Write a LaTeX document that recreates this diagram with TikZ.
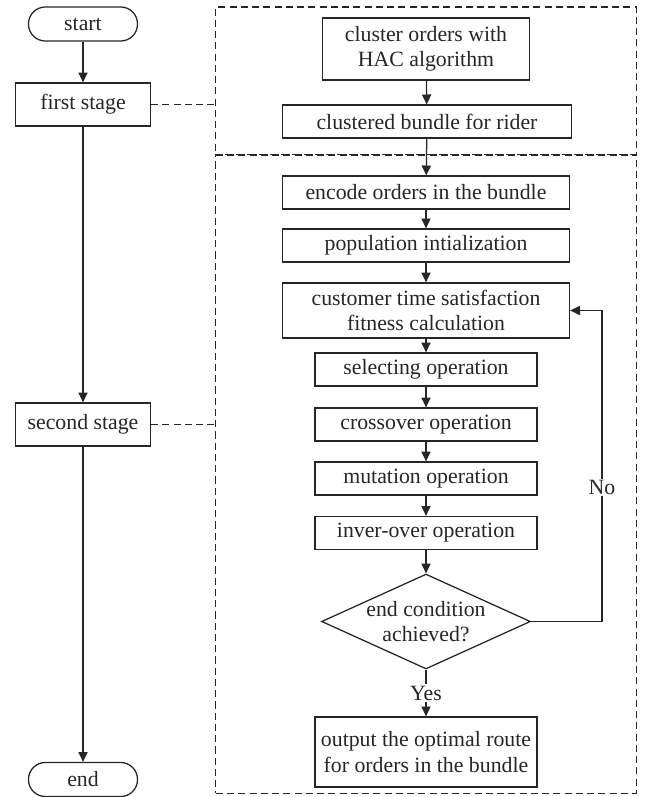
\documentclass[tikz,border=0pt]{standalone}
\usepackage{fontspec}
\setmainfont{Liberation Serif}
\usetikzlibrary{arrows.meta,shapes.geometric}
\tikzset{
  every node/.style={font=\fontsize{15.5}{18}\selectfont, text=black!85},
  termbox/.style={draw=black!85, line width=0.9pt, rounded corners=0.42cm,
    minimum width=2.725cm, minimum height=0.85cm, inner sep=0pt},
  stagebox/.style={draw=black!85, line width=0.9pt,
    minimum width=3.375cm, minimum height=1.075cm, inner sep=0pt},
  opbox/.style={draw=black!85, line width=0.9pt, align=center,
    minimum height=0.825cm, inner sep=0pt},
  dashbox/.style={draw=black!85, line width=0.75pt, dash pattern=on 5pt off 3pt, inner sep=0pt},
  condbox/.style={draw=black!85, line width=0.9pt, diamond, aspect=2.2, align=center,
    minimum width=5.15cm, minimum height=2.325cm, inner sep=0pt},
  arr/.style={draw=black!85, line width=0.9pt, -{Triangle[length=7pt,width=6.5pt]}},
  link/.style={draw=black!85, line width=0.75pt, dash pattern=on 5pt off 3pt}
}
\begin{document}
\begin{tikzpicture}[x=0.025cm, y=-0.025cm]
		%%%%% FRAME %%%%%
		\useasboundingbox (0, 0) rectangle (647, 797);
		
		%%%%% LEFT COLUMN %%%%%
		\node[termbox] (start) at (83, 24) {start};
		\node[stagebox] (first) at (83, 104.5) {first stage};
		\node[stagebox] (second) at (83, 424.5) {second stage};
		\node[termbox] (end) at (83, 779.5) {end};
		
		\draw[arr] (start) -- (first);
		\draw[arr] (first) -- (second);
		\draw[arr] (second) -- (end);
		
		%%%%% DASHED STAGES %%%%%
		\node[dashbox, minimum width=10.5cm, minimum height=3.7cm] (upper) at (426, 81) {};
		\node[dashbox, minimum width=10.5cm, minimum height=15.95cm] (lower) at (426, 474) {};
		
		\draw[link] (first.east) -- (first.east -| upper.west);
		\draw[link] (second.east) -- (second.east -| lower.west);
		
		%%%%% FIRST STAGE %%%%%
		\node[opbox, minimum width=5.175cm, minimum height=1.55cm] (hac) at (426, 49) {cluster orders with\\HAC algorithm};
		\node[opbox, minimum width=7.225cm] (bundle) at (427, 121.5) {clustered bundle for rider};
		
		\draw[arr] (hac) -- (bundle);
		
		%%%%% SECOND STAGE %%%%%
		\node[opbox, minimum width=7.175cm] (encode) at (426, 192.5) {encode orders in the bundle};
		\node[opbox, minimum width=7.175cm] (init) at (426, 245.5) {population intialization};
		\node[opbox, minimum width=7.175cm, minimum height=1.375cm] (fit) at (426, 310.5) {customer time satisfaction\\fitness calculation};
		\node[opbox, minimum width=5.55cm] (select) at (426, 369.5) {selecting operation};
		\node[opbox, minimum width=5.55cm] (cross) at (426, 424.5) {crossover operation};
		\node[opbox, minimum width=5.55cm] (mutate) at (426, 478.5) {mutation operation};
		\node[opbox, minimum width=5.55cm] (inver) at (426, 533) {inver-over operation};
		\node[condbox] (cond) at (426, 621.5) {end condition\\achieved?};
		\node[opbox, minimum width=5.55cm, minimum height=1.75cm] (output) at (426, 752) {output the optimal route\\for orders in the bundle};
		
		\draw[arr] (bundle) -- (encode);
		\draw[arr] (encode) -- (init);
		\draw[arr] (init) -- (fit);
		\draw[arr] (fit) -- (select);
		\draw[arr] (select) -- (cross);
		\draw[arr] (cross) -- (mutate);
		\draw[arr] (mutate) -- (inver);
		\draw[arr] (inver) -- (cond);
		\draw[arr] (cond) -- node[fill=white, inner sep=1pt] {Yes} (output);
		
		% loop back when not finished
		\coordinate (back) at (602, 310.5);
		\draw[arr] (cond.east) -| node[pos=0.716, fill=white, inner sep=1pt] {No} (back) -- (fit.east);
		%%%%% END %%%%%
	\end{tikzpicture}
\end{document}
